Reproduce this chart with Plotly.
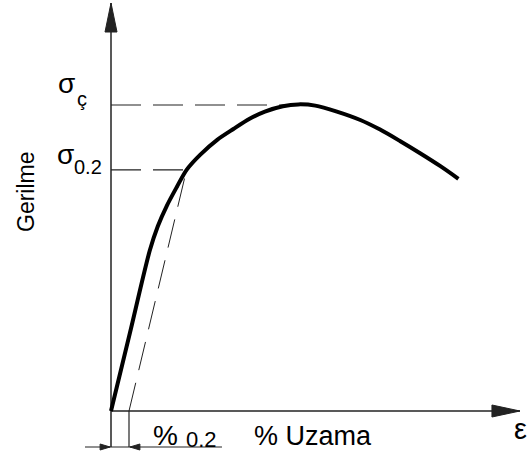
import plotly.graph_objects as go

W, H = 529, 457

# ---- data (strain in %, stress in MPa) ----
strain = [0, 0.21, 0.43, 0.52, 0.62, 0.73, 0.84, 0.99, 1.18, 1.36, 1.54,
          1.71, 1.91, 2.08, 2.27, 2.51, 2.77, 2.99, 3.21, 3.43, 3.66, 3.86]
stress = [0, 130, 267, 308, 342, 373, 402, 427, 452, 470, 487,
          499, 508, 511, 509, 499, 485, 469, 450, 430, 408, 387]

SIGMA_02 = 402      # 0.2 % proof stress
SIGMA_C = 510       # tensile strength
STRAIN_C = 2.0      # where the tensile-strength guide meets the curve
YIELD_STRAIN = 0.84 # strain at proof stress
OFFSET = 0.2        # offset strain (%)

X_RANGE = [-1.2333, 4.6444]
Y_RANGE = [-76.67, 685.0]
X_AXIS_END = 4.544
Y_AXIS_END = 680.0
DIM_Y = -60.0
DIM_X = [-0.289, 1.233]

sx = W / (X_RANGE[1] - X_RANGE[0])   # px per strain unit
sy = H / (Y_RANGE[1] - Y_RANGE[0])   # px per MPa


def px_x(p):
    return X_RANGE[0] + p / sx


def px_y(p):
    return Y_RANGE[1] - p / sy


AX = "#222222"
fig = go.Figure()


def line(xs, ys, width=1.5, dash=None, color=AX, shape="linear"):
    fig.add_trace(go.Scatter(x=xs, y=ys, mode="lines",
                             line=dict(color=color, width=width, dash=dash,
                                       shape=shape, smoothing=0.8),
                             hoverinfo="skip", showlegend=False))


def tri(xs, ys):
    fig.add_trace(go.Scatter(x=xs + [xs[0]], y=ys + [ys[0]], mode="lines",
                             fill="toself", fillcolor=AX,
                             line=dict(color=AX, width=1),
                             hoverinfo="skip", showlegend=False))


# axes
line([0, X_AXIS_END], [0, 0])
line([0, 0], [DIM_Y, Y_AXIS_END])
# arrow heads
tri([X_AXIS_END, X_AXIS_END - 28 / sx, X_AXIS_END - 28 / sx], [0, 6 / sy, -6 / sy])
tri([0, -6 / sx, 6 / sx], [Y_AXIS_END, Y_AXIS_END - 29 / sy, Y_AXIS_END - 29 / sy])

# dimension for 0.2 % offset
line([OFFSET, OFFSET], [DIM_Y, 0], width=1.2)
line(DIM_X, [DIM_Y, DIM_Y], width=1.2)
tri([-0.01, -0.01 - 10 / sx, -0.01 - 10 / sx], [DIM_Y, DIM_Y + 3 / sy, DIM_Y - 3 / sy])
tri([OFFSET + 0.01, OFFSET + 0.01 + 10 / sx, OFFSET + 0.01 + 10 / sx],
    [DIM_Y, DIM_Y + 3 / sy, DIM_Y - 3 / sy])

# dashed guides
line([0, STRAIN_C], [SIGMA_C, SIGMA_C], width=1.2, dash="30px,12px")
line([0, YIELD_STRAIN], [SIGMA_02, SIGMA_02], width=1.2, dash="30px,12px")
line([OFFSET, YIELD_STRAIN], [0, SIGMA_02], width=1, dash="29px,13px")

# stress-strain curve
line(strain, stress, width=4, color="#000000", shape="spline")

FONT = "Liberation Sans, Arial, sans-serif"


def label(text, cx, cy, size, angle=0):
    fig.add_annotation(x=px_x(cx), y=px_y(cy), xref="x", yref="y", text=text,
                       showarrow=False, xanchor="center", yanchor="middle",
                       textangle=angle,
                       font=dict(family=FONT, size=size, color="#000000"))


label("σ", 66, 83, 28)
label("ç", 82, 99, 20)
label("σ", 65, 154, 28)
label("0.2", 88, 167, 20)
label("Gerilme", 26, 192, 23, angle=-90)
label("%", 165, 435, 28)
label("0.2", 201, 439, 22)
label("% Uzama", 313, 436, 27)
label("ε", 520, 429, 29)

fig.update_layout(
    width=W, height=H,
    margin=dict(l=0, r=0, t=0, b=0),
    paper_bgcolor="white", plot_bgcolor="white",
    xaxis=dict(range=X_RANGE, visible=False, fixedrange=True),
    yaxis=dict(range=Y_RANGE, visible=False, fixedrange=True),
    showlegend=False,
)

fig.write_html("out.html", config={"displayModeBar": False},
               post_script="document.body.style.margin='0';")
